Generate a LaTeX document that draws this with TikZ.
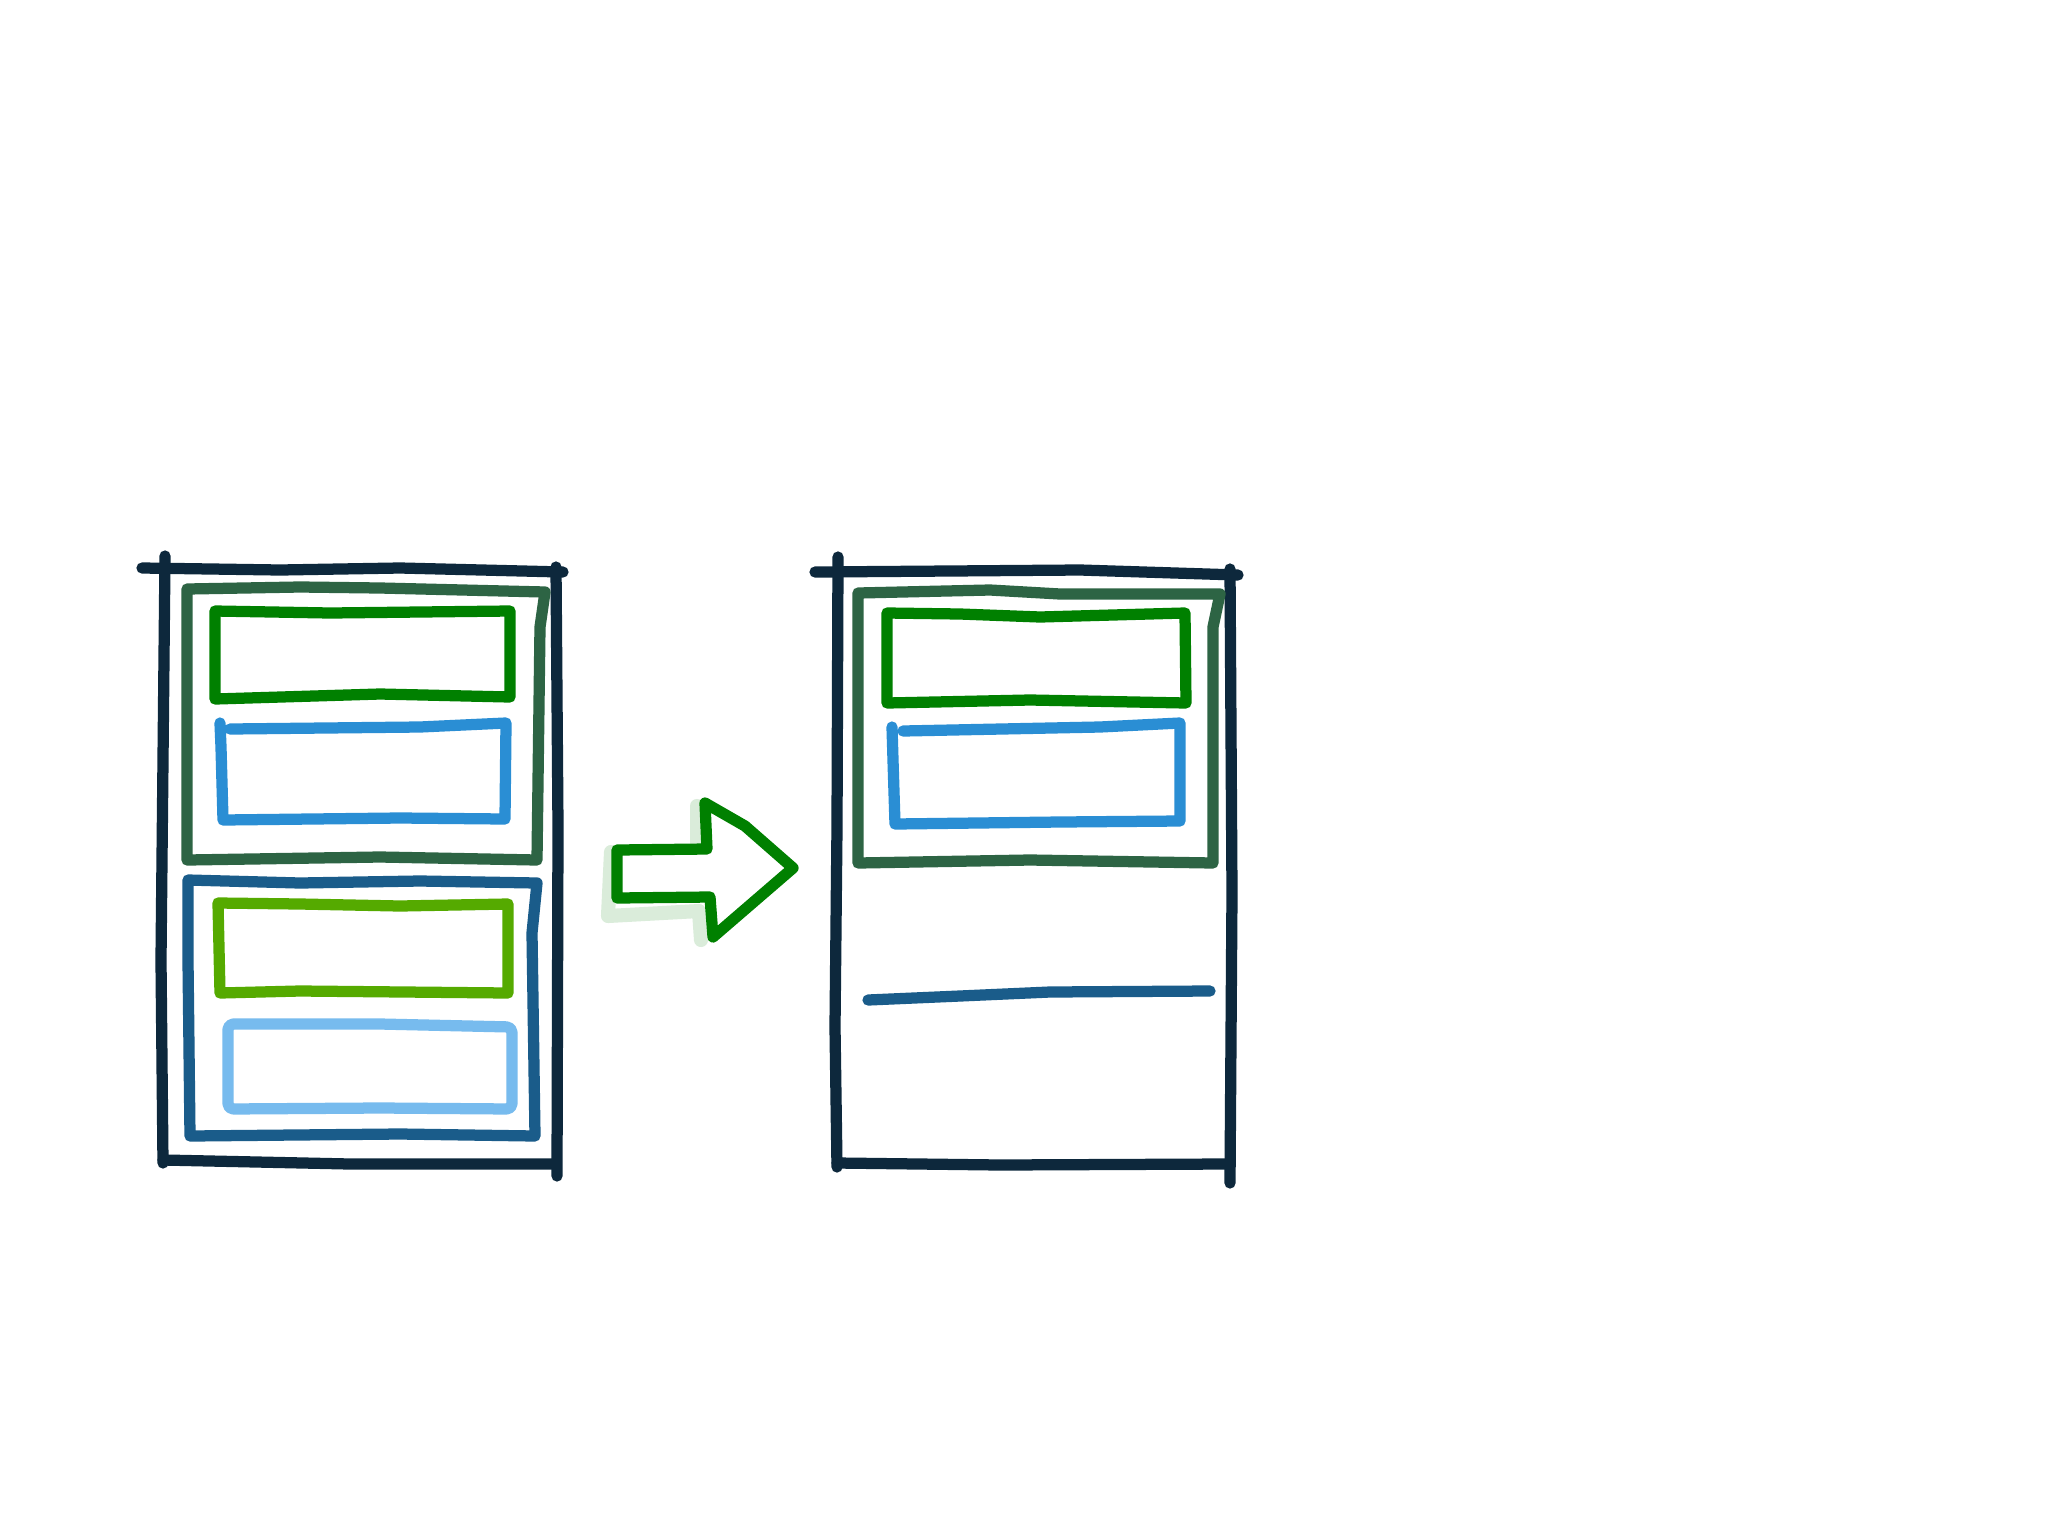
\documentclass[tikz,border=0pt]{standalone}
\usepackage{tikz}

\definecolor{framecol}{RGB}{13,40,60}
\definecolor{boxgreen}{RGB}{0,128,0}
\definecolor{boxblue}{RGB}{42,142,212}
\definecolor{contgreen}{RGB}{45,100,68}
\definecolor{contblue}{RGB}{26,92,138}
\definecolor{lightgreen}{RGB}{85,170,0}
\definecolor{lightblue}{RGB}{119,187,238}
\definecolor{shadowgreen}{RGB}{218,236,218}

\begin{document}
\begin{tikzpicture}[x=0.01cm,y=-0.01cm,line cap=round,line join=round,
	pen/.style={line width=3.2pt},
	frame/.style={pen, draw=framecol},
	cgreen/.style={pen, draw=contgreen},
	cblue/.style={pen, draw=contblue},
	green/.style={pen, draw=boxgreen},
	blue/.style={pen, draw=boxblue},
	lgreen/.style={pen, draw=lightgreen},
	lblue/.style={pen, draw=lightblue, rounded corners=1.5pt}]
	
	\useasboundingbox [fill=white] (0,0) rectangle (2048,1536);
	
	% left page
	\draw [frame] (142,568) -- (280,570) -- (400,568) -- (563,572);
	\draw [frame] (165,556) -- (163,760) -- (161,960) -- (163,1163);
	\draw [frame] (163,1160) -- (350,1164) -- (553,1164);
	\draw [frame] (556,567) -- (558,827) -- (557,1176);
	
	\draw [cgreen] (187,589) -- (300,587) -- (380,588) -- (545,592) -- (540,627) -- (537,860) -- (380,857) -- (187,860) -- cycle;
	\draw [green] (215,611) -- (330,613) -- (420,612) -- (510,611) -- (510,697) -- (380,694) -- (215,699) -- cycle;
	\draw [blue] (220,723) -- (221,747) -- (223,820) -- (400,818) -- (505,819) -- (506,723) -- (420,727) -- (230,729);
	
	\draw [cblue] (188,880) -- (300,883) -- (420,881) -- (537,883) -- (532,933) -- (535,1136) -- (400,1134) -- (190,1136) -- (188,960) -- cycle;
	\draw [lgreen] (218,903) -- (300,904) -- (400,906) -- (508,904) -- (508,993) -- (300,991) -- (220,993) -- cycle;
	\draw [lblue] (228,1024) -- (380,1024) -- (512,1027) -- (512,1109) -- (380,1108) -- (228,1109) -- cycle;
	
	% arrow
	\draw [pen, line width=4pt, draw=shadowgreen] (611,852) -- (608,916) -- (699,911) -- (701,940);
	\draw [pen, line width=4pt, draw=shadowgreen] (697,806) -- (697,842);
	\draw [pen, draw=boxgreen, fill=white] (617,850) -- (707,849) -- (705,803) -- (745,826) -- (793,868) -- (713,937) -- (710,897) -- (617,898) -- cycle;
	
	% right page
	\draw [frame] (815,572) -- (950,571) -- (1080,570) -- (1238,575);
	\draw [frame] (838,557) -- (837,827) -- (835,1027) -- (837,1167);
	\draw [frame] (837,1163) -- (1000,1165) -- (1227,1164);
	\draw [frame] (1230,569) -- (1232,893) -- (1230,1183);
	
	\draw [cgreen] (858,593) -- (990,590) -- (1060,594) -- (1220,594) -- (1213,627) -- (1213,863) -- (1030,860) -- (858,863) -- cycle;
	\draw [green] (887,613) -- (960,614) -- (1040,617) -- (1185,613) -- (1186,703) -- (1030,700) -- (887,703) -- cycle;
	\draw [blue] (892,727) -- (893,760) -- (895,824) -- (1060,822) -- (1180,821) -- (1180,723) -- (1100,727) -- (903,731);
	
	\draw [cblue] (868,1000) -- (960,996) -- (1050,992) -- (1210,991);
	
\end{tikzpicture}
\end{document}
